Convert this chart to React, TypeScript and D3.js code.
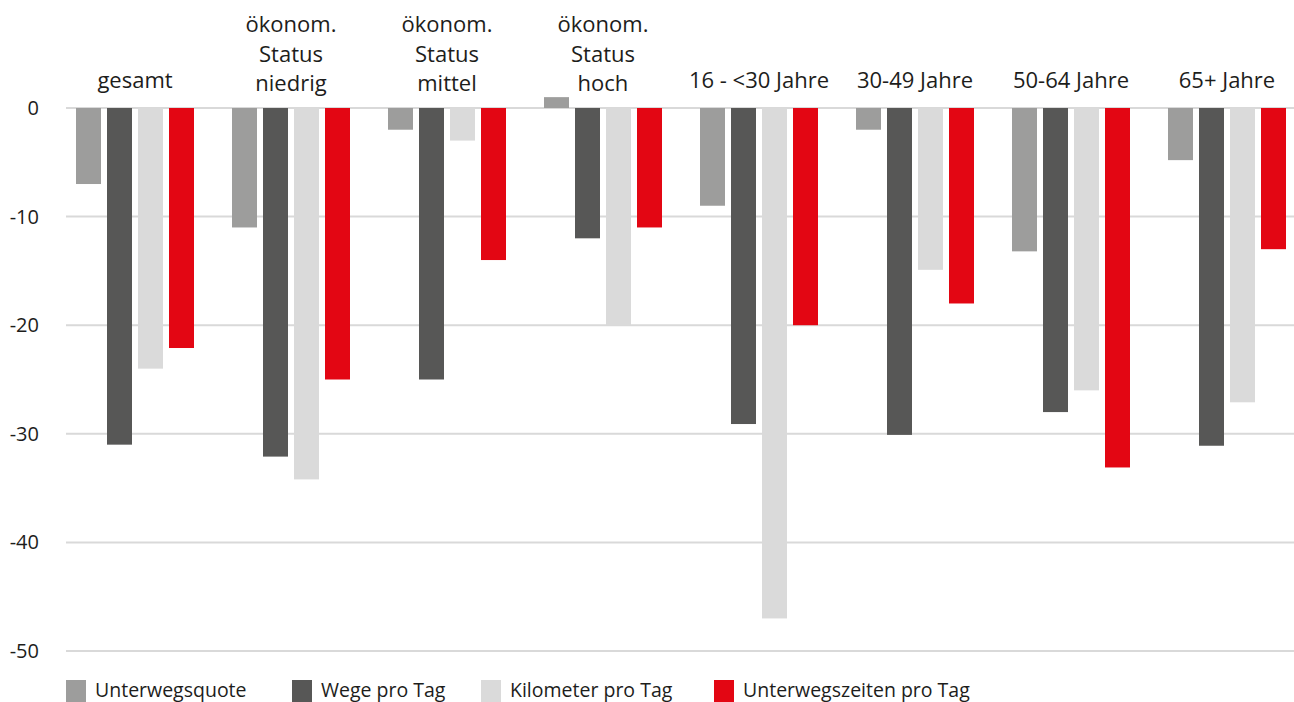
import { useEffect, useRef } from 'react';
import * as d3 from 'd3';

const categories = [
  ['gesamt'],
  ['ökonom.', 'Status', 'niedrig'],
  ['ökonom.', 'Status', 'mittel'],
  ['ökonom.', 'Status', 'hoch'],
  ['16 - <30 Jahre'],
  ['30-49 Jahre'],
  ['50-64 Jahre'],
  ['65+ Jahre'],
];

const seriesNames = ['Unterwegsquote', 'Wege pro Tag', 'Kilometer pro Tag', 'Unterwegszeiten pro Tag'];
const seriesColors = ['#9d9d9c', '#575756', '#dadada', '#e30613'];

const unterwegsquote = [-7, -11, -2, 1, -9, -2, -13.2, -4.8];
const wegeProTag = [-31, -32.1, -25, -12, -29.1, -30.1, -28, -31.1];
const kilometerProTag = [-24, -34.2, -3, -20, -47, -14.9, -26, -27.1];
const unterwegszeitenProTag = [-22.1, -25, -14, -11, -20, -18, -33.1, -13];

const yTicks = [0, -10, -20, -30, -40, -50];

const allSeries = [unterwegsquote, wegeProTag, kilometerProTag, unterwegszeitenProTag];

const App = () => {
  const ref = useRef<SVGSVGElement>(null);

  useEffect(() => {
    document.body.style.margin = '0';
    const width = 1294;
    const font = '"Open Sans", sans-serif';
    const textColor = '#1d1d1b';

    const svg = d3.select(ref.current);
    svg.selectAll('*').remove();

    const keys = categories.map((c) => c.join(' '));

    const x0 = d3.scaleBand().domain(keys).range([57, 57 + 156 * 8]).padding(0);
    const x1 = d3
      .scaleBand()
      .domain(seriesNames)
      .range([0, x0.bandwidth()])
      .paddingInner(6 / 31)
      .paddingOuter(0.613);

    const y = d3.scaleLinear().domain([-50, 0]).range([651, 108]);

    // gridlines
    svg
      .append('g')
      .selectAll('line')
      .data(yTicks)
      .join('line')
      .attr('x1', 66)
      .attr('x2', width)
      .attr('y1', (d) => y(d))
      .attr('y2', (d) => y(d))
      .attr('stroke', '#d9d9d9')
      .attr('stroke-width', 2);

    // tick labels
    svg
      .append('g')
      .selectAll('text')
      .data(yTicks)
      .join('text')
      .attr('x', 39)
      .attr('y', (d) => y(d))
      .attr('dy', '0.35em')
      .attr('text-anchor', 'end')
      .attr('font-family', font)
      .attr('font-size', 20)
      .attr('fill', textColor)
      .text((d) => String(d));

    // bars
    const groups = svg
      .append('g')
      .selectAll('g')
      .data(keys)
      .join('g')
      .attr('transform', (d) => `translate(${x0(d)},0)`);

    groups
      .selectAll('rect')
      .data((_, i) => seriesNames.map((s, j) => ({ s, j, v: allSeries[j][i] })))
      .join('rect')
      .attr('x', (d) => x1(d.s)!)
      .attr('width', x1.bandwidth())
      .attr('y', (d) => y(Math.max(0, d.v)))
      .attr('height', (d) => Math.abs(y(d.v) - y(0)))
      .attr('fill', (d) => seriesColors[d.j]);

    // category labels
    const lineH = 29.5;
    svg
      .append('g')
      .selectAll('text')
      .data(categories)
      .join('text')
      .attr('text-anchor', 'middle')
      .attr('font-family', font)
      .attr('font-size', 22)
      .attr('fill', textColor)
      .each(function (lines, i) {
        const cx = x0(keys[i])! + x0.bandwidth() / 2;
        const base = lines.length > 1 ? 91 : 88;
        const t = d3.select(this);
        lines.forEach((ln, k) => {
          t.append('tspan')
            .attr('x', cx)
            .attr('y', base - (lines.length - 1 - k) * lineH)
            .text(ln);
        });
      });

    // legend
    const legendX = [66, 292, 481, 714];
    const legend = svg
      .append('g')
      .selectAll('g')
      .data(seriesNames)
      .join('g')
      .attr('transform', (_, j) => `translate(${legendX[j]},0)`);
    legend
      .append('rect')
      .attr('y', 680)
      .attr('width', 20)
      .attr('height', 22)
      .attr('fill', (_, j) => seriesColors[j]);
    legend
      .append('text')
      .attr('x', 29)
      .attr('y', 697)
      .attr('font-family', font)
      .attr('font-size', 19.5)
      .attr('fill', textColor)
      .text((d) => d);
  }, []);

  return <svg ref={ref} width={1294} height={702} style={{ display: 'block' }} />;
};

export default App;
